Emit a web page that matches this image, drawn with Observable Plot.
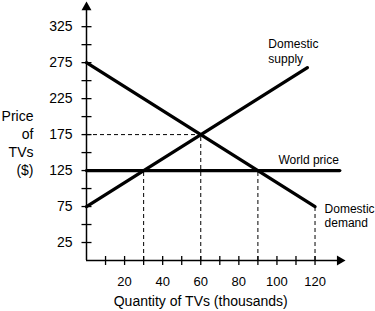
<!DOCTYPE html>
<html><head><meta charset="utf-8">
<script src="https://cdn.jsdelivr.net/npm/d3@7"></script>
<script src="https://cdn.jsdelivr.net/npm/@observablehq/plot@0.6"></script>
<style>body{margin:0;background:#fff} svg{display:block}</style>
</head><body><div id="chart"></div>
<script>
// Data
const supplyQ = [0, 116];
const supplyP = [75, 268];
const demandQ = [0, 120];
const demandP = [275, 75];
const worldQ = [0, 133];
const worldP = [125, 125];
const guideQ = [30, 60, 90, 120];
const guideP = [125, 175, 125, 75];
const eqQ = [60];
const eqP = [175];
const yTicks = [25, 50, 75, 100, 125, 150, 175, 200, 225, 250, 275, 300, 325];
const yTickLabels = [25, 75, 125, 175, 225, 275, 325];
const xTicks = [10, 20, 30, 40, 50, 60, 70, 80, 90, 100, 110, 120];
const xTickLabels = [20, 40, 60, 80, 100, 120];

const toRows = (qs, ps) => qs.map((q, i) => ({q, p: ps[i]}));
const supply = toRows(supplyQ, supplyP);
const demand = toRows(demandQ, demandP);
const world = toRows(worldQ, worldP);
const guides = toRows(guideQ, guideP);
const eq = toRows(eqQ, eqP);

const hTick = {draw(ctx) { ctx.moveTo(-5, 0); ctx.lineTo(5, 0); }};
const vTick = {draw(ctx) { ctx.moveTo(0, -4.5); ctx.lineTo(0, 4.5); }};

const chart = Plot.plot({
  width: 375,
  height: 311,
  marginLeft: 86,
  marginRight: 30,
  marginTop: 1,
  marginBottom: 51,
  x: {domain: [0, 136], axis: null},
  y: {domain: [0, 360], axis: null},
  style: {fontFamily: "'Liberation Sans', Arial, Helvetica, sans-serif", fontSize: "12px", background: "#fff", color: "#000"},
  marks: [
    // dashed guides
    Plot.ruleX(guides, {x: "q", y1: 0, y2: "p", stroke: "#000", strokeWidth: 1, strokeDasharray: "4,3"}),
    Plot.ruleY(eq, {y: "p", x1: 0, x2: "q", stroke: "#000", strokeWidth: 1, strokeDasharray: "4,3"}),
    // axes
    Plot.ruleX([0], {y1: 0, y2: 350, stroke: "#000", strokeWidth: 1.5}),
    Plot.ruleY([0], {x1: 0, x2: 133, stroke: "#000", strokeWidth: 1.5}),
    Plot.dot([0], {x: 0, y: 352, symbol: "triangle", r: 3.7, fill: "#000", stroke: "none"}),
    Plot.dot([0], {x: 133, y: 0, symbol: "triangle", r: 3.7, rotate: 90, fill: "#000", stroke: "none"}),
    Plot.dot(yTicks, {x: 0, y: d => d, symbol: hTick, fill: "none", stroke: "#000", strokeWidth: 1.3}),
    Plot.dot(xTicks, {x: d => d, y: 0, symbol: vTick, fill: "none", stroke: "#000", strokeWidth: 1.3}),
    Plot.text(yTickLabels, {x: 0, y: d => d, text: d => String(d), textAnchor: "end", dx: -14, fontSize: 14, fill: "#000"}),
    Plot.text(xTickLabels, {x: d => d, y: 0, text: d => String(d), dy: 21, fontSize: 13, fill: "#000"}),
    Plot.text(["Quantity of TVs (thousands)"], {x: 60, y: 0, dy: 45, lineAnchor: "bottom", fontSize: 14, fill: "#000"}),
    Plot.text(["Price\nof\nTVs\n($)"], {x: 0, y: 125, dx: -53, dy: 4.5, textAnchor: "end", lineAnchor: "bottom", lineHeight: 1.29, fontSize: 14, fill: "#000"}),
    // curves
    Plot.line(world, {x: "q", y: "p", stroke: "#000", strokeWidth: 3.3}),
    Plot.line(supply, {x: "q", y: "p", stroke: "#000", strokeWidth: 3.3}),
    Plot.line(demand, {x: "q", y: "p", stroke: "#000", strokeWidth: 3.3}),
    // labels
    Plot.text(["Domestic\nsupply"], {x: 95.5, y: 275, textAnchor: "start", lineAnchor: "bottom", lineHeight: 1.25, fontSize: 12, fill: "#000"}),
    Plot.text(["World price"], {x: 100.8, y: 125, dy: -7, textAnchor: "start", lineAnchor: "bottom", fontSize: 12, fill: "#000"}),
    Plot.text(["Domestic\ndemand"], {x: 125, y: 46, textAnchor: "start", lineAnchor: "bottom", lineHeight: 1.2, fontSize: 12, fill: "#000"})
  ]
});
document.getElementById("chart").appendChild(chart);
</script>
</body></html>
